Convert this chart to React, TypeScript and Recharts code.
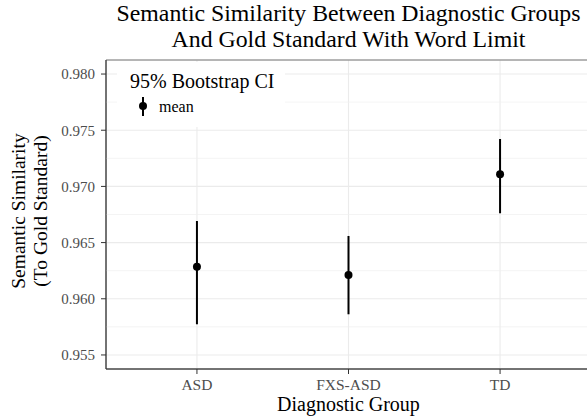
import React from "react";
import {
    CartesianGrid,
    ErrorBar,
    ReferenceArea,
    ReferenceLine,
    Scatter,
    ScatterChart,
    XAxis,
    YAxis,
} from "recharts";

const groups = ["ASD", "FXS-ASD", "TD"];
const means = [0.96286, 0.96212, 0.97108];
const lowers = [0.95773, 0.95862, 0.96761];
const uppers = [0.96692, 0.96559, 0.97422];
const yTicks = [0.955, 0.96, 0.965, 0.97, 0.975, 0.98];
const yMinorTicks = [0.9575, 0.9625, 0.9675, 0.9725, 0.9775];
const xTicks = [1, 2, 3];

const yDomain: [number, number] = [0.95375, 0.98125];
const xDomain: [number, number] = [0.4, 3.6];

const data = groups.map((g, i) => ({
    x: i + 1,
    group: g,
    mean: means[i],
    err: [means[i] - lowers[i], uppers[i] - means[i]],
}));

const FONT = '"Liberation Serif", "Times New Roman", serif';

export default function App() {
    return (
        <div
            style={{
                position: "fixed",
                left: 0,
                top: 0,
                width: 587,
                height: 419,
                overflow: "hidden",
                background: "#fff",
                fontFamily: FONT,
            }}
        >
            <ScatterChart
                width={600}
                height={419}
                margin={{ top: 60, right: 9, bottom: 0, left: 0 }}
                style={{ position: "absolute", left: 0, top: 0 }}
            >
                <CartesianGrid stroke="#ebebeb" strokeWidth={1.1} />
                {/* minor grid */}
                {yMinorTicks.map((v) => (
                    <ReferenceLine key={v} y={v} stroke="#efefef" strokeWidth={0.7} />
                ))}
                <ReferenceArea
                    x1={xDomain[0]}
                    x2={xDomain[1]}
                    y1={yDomain[0]}
                    y2={yDomain[1]}
                    fill="none"
                    stroke="#777"
                    strokeWidth={1}
                />
                <XAxis
                    dataKey="x"
                    type="number"
                    domain={xDomain}
                    ticks={xTicks}
                    tickFormatter={(v: number) => groups[v - 1] ?? ""}
                    height={50}
                    tickSize={5}
                    tickMargin={5}
                    stroke="#333"
                    tick={{ fill: "#4d4d4d", fontSize: 15.5, fontFamily: FONT }}
                    allowDataOverflow
                />
                <YAxis
                    dataKey="mean"
                    type="number"
                    domain={yDomain}
                    ticks={yTicks}
                    tickFormatter={(v: number) => v.toFixed(3)}
                    width={106}
                    tickSize={5}
                    tickMargin={6}
                    stroke="#333"
                    tick={{ fill: "#4d4d4d", fontSize: 15, fontFamily: FONT }}
                    allowDataOverflow
                />
                <Scatter
                    data={data}
                    fill="#000"
                    isAnimationActive={false}
                    shape={(p: any) => <circle cx={p.cx} cy={p.cy} r={4} fill="#000" />}
                >
                    <ErrorBar
                        dataKey="err"
                        direction="y"
                        width={0}
                        stroke="#000"
                        strokeWidth={2}
                        isAnimationActive={false}
                    />
                </Scatter>
            </ScatterChart>

            <div
                style={{
                    position: "absolute",
                    left: 348.5 - 260,
                    top: -0.5,
                    width: 520,
                    textAlign: "center",
                    fontSize: 23.8,
                    lineHeight: "26.3px",
                    color: "#000",
                    whiteSpace: "nowrap",
                }}
            >
                Semantic Similarity Between Diagnostic Groups
                <br />
                And Gold Standard With Word Limit
            </div>

            {/* legend box */}
            <div
                style={{
                    position: "absolute",
                    left: 117,
                    top: 62,
                    width: 168,
                    height: 65,
                    background: "#fff",
                }}
            >
                <div
                    style={{
                        position: "absolute",
                        left: 13,
                        top: 8,
                        fontSize: 20,
                        lineHeight: "22px",
                        whiteSpace: "nowrap",
                    }}
                >
                    95% Bootstrap CI
                </div>
                <svg
                    width={20}
                    height={24}
                    style={{ position: "absolute", left: 15.5, top: 33 }}
                >
                    <line x1={10} x2={10} y1={2} y2={21} stroke="#000" strokeWidth={2} />
                    <circle cx={10} cy={11} r={4} fill="#000" />
                </svg>
                <div
                    style={{
                        position: "absolute",
                        left: 42,
                        top: 35.5,
                        fontSize: 16,
                        lineHeight: "18px",
                        whiteSpace: "nowrap",
                    }}
                >
                    mean
                </div>
            </div>

            {/* y axis title */}
            <div
                style={{
                    position: "absolute",
                    left: 29.5 - 150,
                    top: 211 - 22,
                    width: 300,
                    height: 44,
                    textAlign: "center",
                    fontSize: 19.5,
                    lineHeight: "22px",
                    transform: "rotate(-90deg)",
                    whiteSpace: "nowrap",
                }}
            >
                Semantic Similarity
                <br />
                (To Gold Standard)
            </div>

            {/* x axis title */}
            <div
                style={{
                    position: "absolute",
                    left: 348.5 - 150,
                    top: 393,
                    width: 300,
                    textAlign: "center",
                    fontSize: 20,
                    lineHeight: "22px",
                    whiteSpace: "nowrap",
                }}
            >
                Diagnostic Group
            </div>
        </div>
    );
}
